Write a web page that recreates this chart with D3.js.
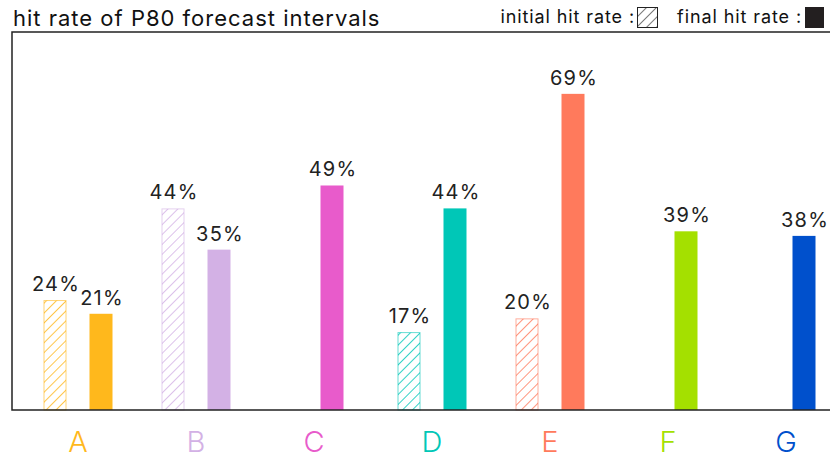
<!DOCTYPE html>
<html>
<head>
<meta charset="utf-8">
<script src="https://cdn.jsdelivr.net/npm/d3@7"></script>
<style>
  body { margin: 0; background: #fff; }
  svg text { font-family: Inter, "Open Sans", sans-serif; }
</style>
</head>
<body>
<svg id="chart" width="830" height="458"></svg>
<script>
// categories and hit rates (percent), null = no initial value
const categories = ["A", "B", "C", "D", "E", "F", "G"];
const initialRate = [24, 44, null, 17, 20, null, null];
const finalRate = [21, 35, 49, 44, 69, 39, 38];
const colors = ["#FFB81C", "#D3B1E5", "#E85BCB", "#00C7B7", "#FF7A5C", "#A4E000", "#0050CC"];

const svg = d3.select("#chart");
const margin = { top: 32, left: 12, right: 0, bottom: 48 };
const W = 830, H = 458;
const barW = 23;

// x: one point per category, y: percent
const x = d3.scalePoint().domain(categories).range([78, 786]);
const y = d3.scaleLinear().domain([0, 82.5]).range([H - margin.bottom, margin.top]);

// hatch pattern for the initial bars
const defs = svg.append("defs");
colors.forEach((c, i) => {
  const p = defs.append("pattern")
    .attr("id", "hatch" + i)
    .attr("patternUnits", "userSpaceOnUse")
    .attr("width", 7).attr("height", 7)
    .attr("patternTransform", "rotate(45)");
  p.append("line")
    .attr("x1", 0).attr("y1", 0).attr("x2", 0).attr("y2", 7)
    .attr("stroke", c).attr("stroke-width", 1.6);
});
const lp = defs.append("pattern")
  .attr("id", "hatchLegend")
  .attr("patternUnits", "userSpaceOnUse")
  .attr("width", 7).attr("height", 7)
  .attr("patternTransform", "rotate(45)");
lp.append("line").attr("x1", 0).attr("y1", 0).attr("x2", 0).attr("y2", 7)
  .attr("stroke", "#222").attr("stroke-width", 1.2);

const rows = categories.map((c, i) => ({
  cat: c, init: initialRate[i], fin: finalRate[i], color: colors[i], i: i
}));

// initial (hatched) bars
const initRows = rows.filter(d => d.init != null);
svg.append("g").selectAll("rect")
  .data(initRows)
  .join("rect")
  .attr("x", d => x(d.cat) - 23 - barW / 2 + 0.5)
  .attr("y", d => y(d.init) + 0.5)
  .attr("width", barW - 1)
  .attr("height", d => y(0) - y(d.init) - 0.5)
  .attr("fill", d => "url(#hatch" + d.i + ")")
  .attr("stroke", d => d.color)
  .attr("stroke-opacity", 0.6);

// final (solid) bars
const finX = d => x(d.cat) + (d.init != null ? 23 : 18) - barW / 2;
svg.append("g").selectAll("rect")
  .data(rows)
  .join("rect")
  .attr("x", finX)
  .attr("y", d => y(d.fin))
  .attr("width", barW)
  .attr("height", d => y(0) - y(d.fin))
  .attr("fill", d => d.color);

// value labels
const valueLabel = sel => sel
  .attr("text-anchor", "middle")
  .attr("font-size", 20)
  .attr("letter-spacing", 1.2)
  .attr("fill", "#222");
svg.append("g").selectAll("text")
  .data(initRows)
  .join("text")
  .attr("x", d => x(d.cat) - 23 + 1)
  .attr("y", d => y(d.init) - 9)
  .call(valueLabel)
  .text(d => d.init + "%");
svg.append("g").selectAll("text")
  .data(rows)
  .join("text")
  .attr("x", d => finX(d) + barW / 2 + 1)
  .attr("y", d => y(d.fin) - 9)
  .call(valueLabel)
  .text(d => d.fin + "%");

// category labels
svg.append("g").selectAll("text")
  .data(rows)
  .join("text")
  .attr("x", d => x(d.cat))
  .attr("y", 452)
  .attr("text-anchor", "middle")
  .attr("font-size", 29)
  .attr("font-weight", 300)
  .attr("fill", d => d.color)
  .text(d => d.cat);

// frame: top, left, bottom
const frame = svg.append("g").attr("stroke", "#222").attr("stroke-width", 1.5).attr("fill", "none");
frame.append("path")
  .attr("d", `M${W},${margin.top}H${margin.left}V${y(0)}H${W}`);

// title
svg.append("text")
  .attr("x", 13).attr("y", 26)
  .attr("font-size", 22)
  .attr("letter-spacing", 1)
  .attr("fill", "#111")
  .text("hit rate of P80 forecast intervals");

// legend
const legendText = sel => sel
  .attr("text-anchor", "end")
  .attr("font-size", 18)
  .attr("letter-spacing", 0.9)
  .attr("fill", "#111");
svg.append("text")
  .attr("x", 635).attr("y", 23)
  .call(legendText)
  .text("initial hit rate :");
svg.append("rect")
  .attr("x", 637.5).attr("y", 7.5).attr("width", 20).attr("height", 20)
  .attr("fill", "url(#hatchLegend)").attr("stroke", "#222").attr("stroke-width", 1);
svg.append("text")
  .attr("x", 802).attr("y", 23)
  .call(legendText)
  .text("final hit rate :");
svg.append("rect")
  .attr("x", 805).attr("y", 7).attr("width", 19).attr("height", 21)
  .attr("fill", "#231F20");
</script>
</body>
</html>
